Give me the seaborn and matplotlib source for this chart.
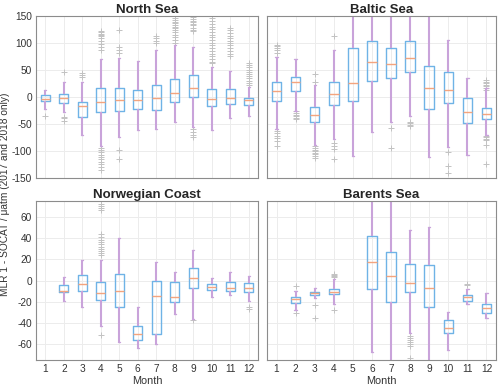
import numpy as np
import pandas as pd
import matplotlib
matplotlib.use("Agg")
import matplotlib.pyplot as plt
import seaborn as sns

months = list(range(1, 13))
regions = ["North Sea", "Baltic Sea", "Norwegian Coast", "Barents Sea"]

# five-number summaries per month: (whisker low, q1, median, q3, whisker high); None = no data
ns_stats = [(-22, -8, -4, 3, 13), (-28, -11, -2.5, 5.5, 27), (-71, -37.7, -16.7, -10.5, 27),
            (-92, -28, -10, 15.5, 70.5), (-74, -26, -5.5, 15.5, 72), (-62, -22, -6, 13, 67),
            (-59, -24, -3, 21.6, 87), (-47.6, -10.5, 6, 33, 95), (-56, -0.6, 17, 40, 92),
            (-61, -18, -5, 14, 55), (-40, -13.6, -2, 13.6, 48), (-35, -16, -7, -2, 18)]
bs_stats = [(-60, -8.7, 11, 26.6, 73), (-27, 11, 26.6, 36, 70), (-89, -47.6, -34, -18.5, 22),
            (-78, -16, 5, 28, 86.6), (-109, -7.4, 24.7, 90, 200), (-65.6, 29.7, 64, 102.7, 200),
            (-46, 34, 60.6, 90, 200), (-35, 45, 72, 102.7, 200), (-111, -22, 16, 57, 200),
            (-93, -11, 11.7, 46, 104.5), (-108, -49, -29, -2, 34.6), (-70, -41, -32, -21.6, 16)]
nc_stats = [None, (-19, -11, -9.7, -4, 3), (-25, -9.4, -3.4, 5, 19.7),
            (-42.5, -18.4, -11.6, -1.25, 19.7), (-58, -25.3, -9.4, 6, 40), (-63, -56, -50.3, -43, -25),
            (-60, -50.3, -14.4, 0, 17.5), (-31.6, -19.7, -15.3, -1, 8), (-36, -7.2, 2, 12, 29),
            (-15.6, -9, -6, -3.4, 2), (-13.7, -10, -7.2, -1, 8), (-19.4, -10.3, -7, -2.5, 4.7)]
br_stats = [None, (-27.5, -21, -17, -15, -9.4), (-16.6, -14, -12, -10.3, -6.6),
            (-21.6, -13, -10.6, -7.5, 1.25), None, (-67, -8.4, 17.8, 41.5, 120),
            (-120, -19.7, 4, 26.6, 120), (-49, -11, -2.5, 16, 48), (-120, -25, -7, 14.4, 50.6),
            (-65, -49.4, -45, -37, -29.4), (-22, -19.4, -15.3, -13.7, -7.8), (-35, -30.6, -26, -22, -11.6)]

ns_out = [[-36], [46, -37, -39, -45], [44, 40, 36],
          [121, 119, 117, 115, 112, 108, 104, 98, 92, 86, -95, -98, -102, -108, -112, -116, -120, -125, -130, -135],
          [123, 92, 86, 81, -98, -116], [], [113, 108, 104, 100],
          [145, 142, 139, 136, 133, 130, 127, 124, 120, 115, 110, 105, 100],
          [150, 147, 144, 141, 138, 135, 132, 128, 124, 121, -60, -65, -70, -75],
          [145, 140, 135, 130, 125, 120, 115, 110, 105, 100, 95, 90, 85, 80, 75, 70, 65, 62],
          [128, 124, 118, 112, 108, 104, 100, 96, 90, 84, 80, 76],
          [62, 58, 55, 50, 46, 42, 38, 34, 30, 26, 22]]
bs_out = [[96, 93, 90, 86, 81, -64, -67, -72, -76, -82, -91], [-27, -30, -33, -36, -39, -42],
          [42, 28, -91, -95, -98, -101, -104, -107, -110, -114], [112, -86, -92, -97, -115],
          [], [], [-58, -95], [-46, -49, -52, -55], [], [-103, -129, -141], [],
          [31, 28, 25, 22, 19, 16, 13, -72, -75, -78, -80, -89, -125]]
nc_out = [[], [], [], [72, 70, 68, 66, 44, 41, 38, 36, 34, 32, 30, 28, 26, 24, -51],
          [], [], [], [], [-37], [], [], [-25, -27]]
br_out = [[], [-5, -30.6], [-23, -35], [6, 5, 4, 3, -28], [], [], [],
          [-52, -54, -56, -58, -60, -62, -73], [], [], [-3, -4.5], []]

all_stats = [ns_stats, bs_stats, nc_stats, br_stats]
all_out = [ns_out, bs_out, nc_out, br_out]
ylims = [(-150, 150), (-150, 150), (-75, 75), (-75, 75)]
yticks = [np.arange(-150, 151, 50), np.arange(-150, 151, 50),
          np.arange(-60, 61, 20), np.arange(-60, 61, 20)]

sns.set_style("whitegrid")
plt.rcParams["font.family"] = ["Liberation Sans", "DejaVu Sans"]
plt.rcParams["axes.unicode_minus"] = False

BOX = "#6fb3e6"
MED = "#f4a47e"
WHISK = "#c9a3da"
OUT = "#c2c2c2"
FRAME = "#8c8c8c"
TXT = "#333333"

fig = plt.figure(figsize=(5.0, 3.88), dpi=100)
rects = [(0.072, 0.542, 0.444, 0.4175), (0.534, 0.542, 0.458, 0.4175),
         (0.072, 0.0714, 0.444, 0.411), (0.534, 0.0714, 0.458, 0.411)]

for i, (name, stats, outs) in enumerate(zip(regions, all_stats, all_out)):
    ax = fig.add_axes(rects[i])
    rows = []
    for m, s in zip(months, stats):
        if s is None:
            continue
        for v in s:
            rows.append({"Month": m, "value": v})
    df = pd.DataFrame(rows)
    sns.boxplot(data=df, x="Month", y="value", native_scale=True, width=0.5,
                whis=(0, 100), showfliers=False, fill=False, color=BOX, ax=ax,
                boxprops={"color": BOX, "linewidth": 1.0},
                medianprops={"color": MED, "linewidth": 1.0},
                whiskerprops={"color": WHISK, "linewidth": 1.5},
                capprops={"color": WHISK, "linewidth": 1.0},
                capwidths=0.12)
    orows = [{"Month": m, "value": v} for m, o in zip(months, outs) for v in o]
    if orows:
        odf = pd.DataFrame(orows)
        sns.scatterplot(data=odf, x="Month", y="value", marker="+", color=OUT,
                        s=20, linewidth=0.7, ax=ax, zorder=1)
    ax.set_xlim(0.5, 12.5)
    ax.set_ylim(*ylims[i])
    ax.set_xticks(months)
    ax.set_yticks(yticks[i])
    ax.grid(True, color="#ececec", linewidth=0.7)
    ax.set_axisbelow(True)
    for sp in ax.spines.values():
        sp.set_color(FRAME)
        sp.set_linewidth(0.8)
    ax.tick_params(direction="in", length=2.5, color=FRAME, labelsize=7.3,
                   labelcolor=TXT, pad=3)
    ax.set_title(name, fontsize=9.5, fontweight="bold", pad=2)
    ax.set_ylabel("")
    if i < 2:
        ax.set_xticklabels([])
        ax.set_xlabel("")
    else:
        ax.set_xticklabels([str(m) for m in months])
        ax.set_xlabel("Month", fontsize=7.8, color=TXT, labelpad=1)
    if i in (1, 3):
        ax.set_yticklabels([])

fig.text(0.011, 0.5, "MLR 1 - SOCAT / μatm (2017 and 2018 only)", rotation=90,
         ha="center", va="center", fontsize=7.3, color=TXT)

fig.savefig("out.png", dpi=100)
